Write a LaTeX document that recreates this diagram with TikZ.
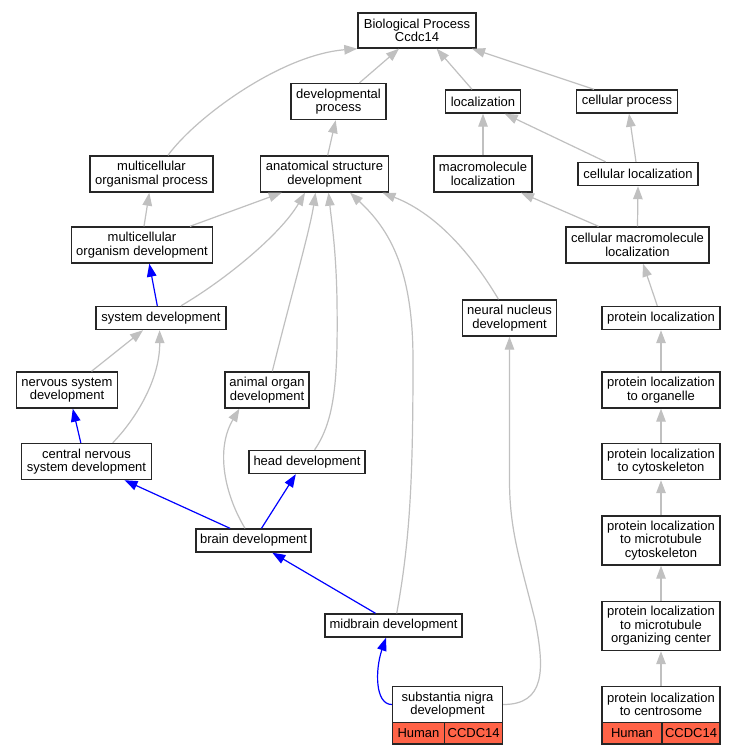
\documentclass[tikz,border=0pt]{standalone}
\usepackage{fontspec}
\setmainfont{Liberation Sans}
\usetikzlibrary{arrows.meta}
\definecolor{edgegray}{RGB}{192,192,192}
\definecolor{cellred}{RGB}{255,99,71}
\begin{document}
\begin{tikzpicture}[x=1pt,y=-1pt,
 box/.style={draw=black!85, line width=1.4pt, fill=white, rectangle, inner sep=0pt, align=center, font=\fontsize{13}{13.4}\selectfont},
 cell/.style={box, fill=cellred},
 ge/.style={draw=edgegray, line width=1.2pt, -{Triangle[length=13pt,width=9.5pt]}},
 be/.style={draw=blue, line width=1.2pt, -{Triangle[length=13pt,width=9.5pt]}},
]
\fill[white] (0,0) rectangle (737,755);
\useasboundingbox (0,0) rectangle (737,755);

\node[box, minimum width=118pt, minimum height=35pt] (bio) at (417,30.5) {Biological Process\\Ccdc14};
\node[box, minimum width=95pt, minimum height=36pt] (dev) at (338.5,101.5) {developmental\\process};
\node[box, minimum width=75pt, minimum height=23pt] (loc) at (483,101.5) {localization};
\node[box, minimum width=101pt, minimum height=23pt] (cproc) at (627,101.5) {cellular process};
\node[box, minimum width=123pt, minimum height=36pt] (mop) at (151.5,174) {multicellular\\organismal process};
\node[box, minimum width=128pt, minimum height=36pt] (asd) at (324.5,174) {anatomical structure\\development};
\node[box, minimum width=98pt, minimum height=36pt] (mloc) at (483,174) {macromolecule\\localization};
\node[box, minimum width=120pt, minimum height=23pt] (cloc) at (638,174) {cellular localization};
\node[box, minimum width=141pt, minimum height=36pt] (mod) at (142,245) {multicellular\\organism development};
\node[box, minimum width=143pt, minimum height=36pt] (cmloc) at (637.5,245) {cellular macromolecule\\localization};
\node[box, minimum width=130pt, minimum height=23pt] (sysd) at (161,318) {system development};
\node[box, minimum width=94pt, minimum height=36pt] (nnd) at (509.5,318) {neural nucleus\\development};
\node[box, minimum width=118pt, minimum height=23pt] (ploc) at (661,318) {protein localization};
\node[box, minimum width=101pt, minimum height=36pt] (nsd) at (67,390) {nervous system\\development};
\node[box, minimum width=84pt, minimum height=36pt] (aod) at (267,390) {animal organ\\development};
\node[box, minimum width=118pt, minimum height=36pt] (plorg) at (661,390) {protein localization\\to organelle};
\node[box, minimum width=130pt, minimum height=36pt] (cnsd) at (86.5,461.5) {central nervous\\system development};
\node[box, minimum width=116pt, minimum height=23pt] (hd) at (307,462) {head development};
\node[box, minimum width=118pt, minimum height=36pt] (plcyto) at (661,461.5) {protein localization\\to cytoskeleton};
\node[box, minimum width=115pt, minimum height=23pt] (bd) at (253.5,540.5) {brain development};
\node[box, minimum width=118pt, minimum height=49pt] (plmtc) at (661,540.5) {protein localization\\to microtubule\\cytoskeleton};
\node[box, minimum width=137pt, minimum height=23pt] (mbd) at (393.5,625.5) {midbrain development};
\node[box, minimum width=118pt, minimum height=49pt] (plmtoc) at (661,626) {protein localization\\to microtubule\\organizing center};
\node[box, minimum width=110pt, minimum height=35.5pt] (sn) at (447.5,704.5) {substantia nigra\\development};
\node[cell, minimum width=52pt, minimum height=21.7pt] (snh) at (418.5,733.2) {Human};
\node[cell, minimum width=58pt, minimum height=21.7pt] (sng) at (473.7,733.2) {CCDC14};
\node[box, minimum width=118pt, minimum height=35.5pt] (plc) at (661,704.5) {protein localization\\to centrosome};
\node[cell, minimum width=60pt, minimum height=21.7pt] (plch) at (632,733.2) {Human};
\node[cell, minimum width=58pt, minimum height=21.7pt] (plcg) at (691,733.2) {CCDC14};

\draw[ge] ([xshift=21pt]dev.north) -- ([xshift=-18pt]bio.south);
\draw[ge] ([xshift=-11pt]loc.north) -- ([xshift=19.6pt]bio.south);
\draw[ge] ([xshift=-33pt]cproc.north) -- ([xshift=55pt]bio.south);
\draw[ge] ([xshift=16.5pt]mop.north) .. controls (195,118) and (280,55) .. (bio.south west);
\draw[ge] ([xshift=3.2pt]asd.north) -- ([xshift=-2.8pt]dev.south);
\draw[ge] (mloc.north) -- (loc.south);
\draw[ge] ([xshift=-32.4pt]cloc.north) -- ([xshift=21.7pt]loc.south);
\draw[ge] ([xshift=-2pt]cloc.north) -- ([xshift=2pt]cproc.south);
\draw[ge] ([xshift=2pt]mod.north) -- ([xshift=-2.2pt]mop.south);
\draw[ge] ([xshift=48pt]mod.north) -- ([xshift=-42.8pt]asd.south);
\draw[ge] ([xshift=-39pt]cmloc.north) -- ([xshift=38pt]mloc.south);
\draw[ge] (cmloc.north) -- (cloc.south);
\draw[be] ([xshift=-3.7pt]sysd.north) -- ([xshift=7.3pt]mod.south);
\draw[ge] ([xshift=20pt]sysd.north) .. controls (225,280) and (280,235) .. ([xshift=-19.5pt]asd.south);
\draw[ge] ([xshift=5.3pt]aod.north) .. controls (290,300) and (310,230) .. ([xshift=-9pt]asd.south);
\draw[ge] ([xshift=7.6pt]hd.north) .. controls (335,420) and (338,380) .. (337,300) .. controls (336,250) and (332,225) .. ([xshift=4pt]asd.south);
\draw[ge] ([xshift=3.2pt]mbd.north) .. controls (410,540) and (413,480) .. (413,360) .. controls (413,270) and (390,230) .. ([xshift=25.5pt]asd.south);
\draw[ge] ([xshift=-11pt]nnd.north) .. controls (475,260) and (440,215) .. ([xshift=58pt]asd.south);
\draw[ge] ([xshift=24.5pt]nsd.north) -- ([xshift=-18pt]sysd.south);
\draw[ge] ([xshift=26.2pt]cnsd.north) .. controls (135,420) and (160,380) .. ([xshift=-1.4pt]sysd.south);
\draw[be] ([xshift=-5.7pt]cnsd.north) -- ([xshift=5.8pt]nsd.south);
\draw[ge] (sn.east) .. controls (545,704.5) and (545,670) .. (535,620) .. controls (520,560) and (509.5,530) .. (509.5,480) -- (nnd.south);
\draw[ge] ([xshift=-8.5pt]bd.north) .. controls (225,495) and (215,450) .. ([xshift=-27.6pt]aod.south);
\draw[be] ([xshift=-23.5pt]bd.north) -- ([xshift=38pt]cnsd.south);
\draw[be] ([xshift=8pt]bd.north) -- ([xshift=-11.2pt]hd.south);
\draw[be] ([xshift=-18pt]mbd.north) -- ([xshift=18.8pt]bd.south);
\draw[be] (sn.west) .. controls (375,704.5) and (375,670) .. ([xshift=-7.5pt]mbd.south);
\draw[ge] ([xshift=-3.7pt]ploc.north) -- ([xshift=5.5pt]cmloc.south);
\draw[ge] (plorg.north) -- (ploc.south);
\draw[ge] (plcyto.north) -- (plorg.south);
\draw[ge] (plmtc.north) -- (plcyto.south);
\draw[ge] (plmtoc.north) -- (plmtc.south);
\draw[ge] (plc.north) -- (plmtoc.south);
\end{tikzpicture}
\end{document}
